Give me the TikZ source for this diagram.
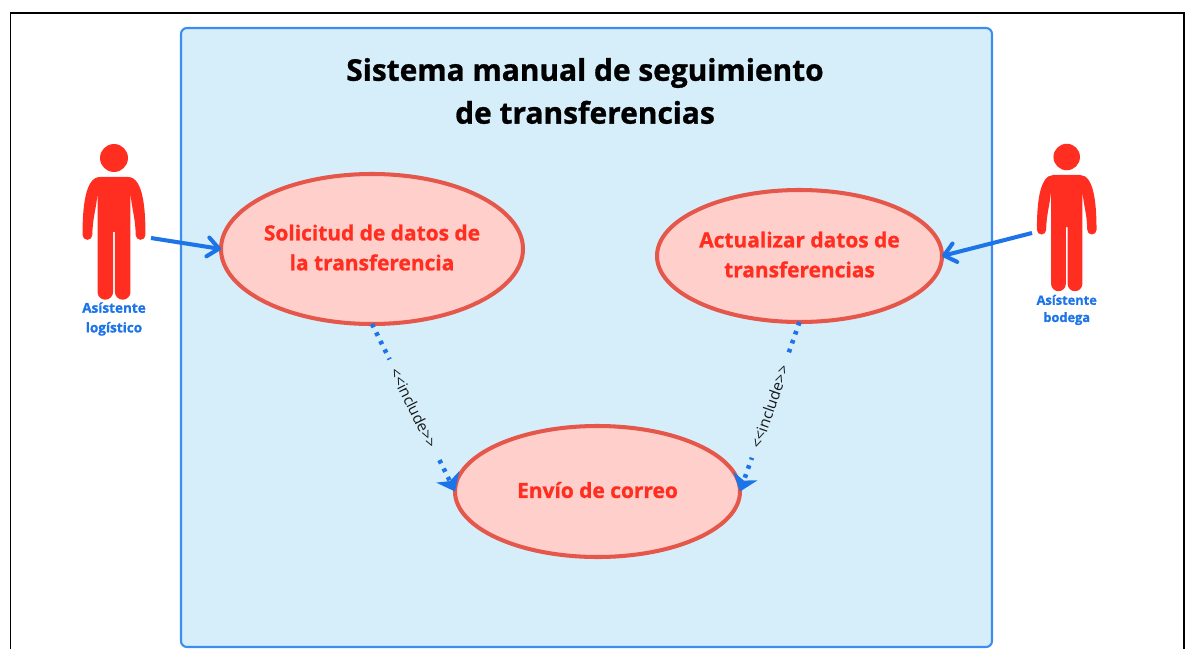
\documentclass[tikz,border=0pt]{standalone}
\usepackage{fontspec}
\setmainfont{Open Sans}
\newfontfamily\heavyfont[BoldFeatures={FakeBold=1.0}]{Open Sans}
\newfontfamily\labelfont{Open Sans}
\usetikzlibrary{shapes.geometric, arrows.meta}
\definecolor{panelfill}{HTML}{D5EEFA}
\definecolor{panelline}{HTML}{3D8CF0}
\definecolor{actorred}{HTML}{FF2E20}
\definecolor{casefill}{HTML}{FFD0CB}
\definecolor{caseline}{HTML}{E5574B}
\definecolor{linkblue}{HTML}{1C74E8}
\tikzset{
    actor/.pic={
        \fill[actorred, x=0.01cm, y=0.01cm] (0, 0) circle (14);
        \fill[actorred, x=0.01cm, y=0.01cm] (0.9, -74) -- (0.9, -134) arc (180:360:7.8) -- (16.5, -35)
            .. controls (17.5, -50) and (21.5, -60) .. (21.7, -77) arc (180:360:4.9)
            .. controls (31.5, -50) and (29, -19) .. (14, -19) -- (-14, -19)
            .. controls (-29, -19) and (-31.5, -50) .. (-31.5, -77) arc (180:360:4.9)
            .. controls (-21.5, -60) and (-17.5, -50) .. (-16.5, -35) -- (-16.5, -134) arc (180:360:7.8) -- (-0.9, -74) -- cycle;
    },
    usecase/.style={ellipse, draw=caseline, fill=casefill, line width=1.15pt, inner xsep=-7pt, inner ysep=0pt, outer sep=0pt, align=center, text depth=0.9pt, text=actorred, font=\fontsize{5.95}{8.5}\selectfont\heavyfont\bfseries},
    actorlabel/.style={align=center, text=linkblue},
    assoc/.style={-{Straight Barb[length=3.2pt, width=5.4pt, round]}, linkblue, line width=1.15pt},
    includes/.style={-{Stealth[length=4.6pt, width=7.2pt, inset=1.3pt]}, linkblue, line width=1.3pt, dash pattern=on 1.05pt off 1.65pt},
    includelabel/.style={midway, sloped, fill=panelfill, inner xsep=3pt, inner ysep=1pt, text=black!90, font=\fontsize{4.35}{5.5}\selectfont\labelfont},
}
\begin{document}
\begin{tikzpicture}
    \useasboundingbox (0, 0) rectangle (11.87, 6.49);
    \draw[line width=0.4pt] (0.105, 0) -- (0.105, 6.36) -- (11.84, 6.36) -- (11.84, 0);
    \draw[panelline, fill=panelfill, line width=0.6pt, rounded corners=1.7pt] (1.81, 0.02) rectangle (9.92, 6.21);

    \node[align=center, font=\fontsize{8.5}{12.2}\selectfont\heavyfont\bfseries] (title) at (5.85, 5.58) {Sistema manual de seguimiento\\de transferencias};

    \node[usecase, minimum width=3.02cm, minimum height=1.50cm] (solicitud) at (3.72, 4.00) {Solicitud de datos de\\la transferencia};
    \node[usecase, minimum width=2.85cm, minimum height=1.32cm] (actualizar) at (7.995, 3.93) {Actualizar datos de\\transferencias};
    \node[usecase, minimum width=2.85cm, minimum height=1.31cm] (envio) at (5.975, 1.575) {Envío de correo};

    \pic at (1.14, 4.91) {actor};
    \pic[scale=0.947] at (10.667, 4.92) {actor};
    \node[actorlabel, font=\fontsize{3.85}{5.6}\selectfont\heavyfont\bfseries] (logistico) at (1.14, 3.30) {Asístente\\logístico};
    \node[actorlabel, font=\fontsize{3.65}{4.9}\selectfont\heavyfont\bfseries] (bodega) at (10.667, 3.39) {Asístente\\bodega};

    \coordinate (logisticoarm) at (1.51, 4.11);
    \coordinate (bodegaarm) at (10.32, 4.16);
    \draw[assoc] (logisticoarm) -- (solicitud.west);
    \draw[assoc] (bodegaarm) -- (actualizar.east);

    \draw[includes] (solicitud.south) -- node[includelabel] (includeleft) {<<include>>} (envio.west);
    \draw[includes] (actualizar.south) -- node[includelabel] (includeright) {<<include>>} (envio.east);
\end{tikzpicture}
\end{document}
